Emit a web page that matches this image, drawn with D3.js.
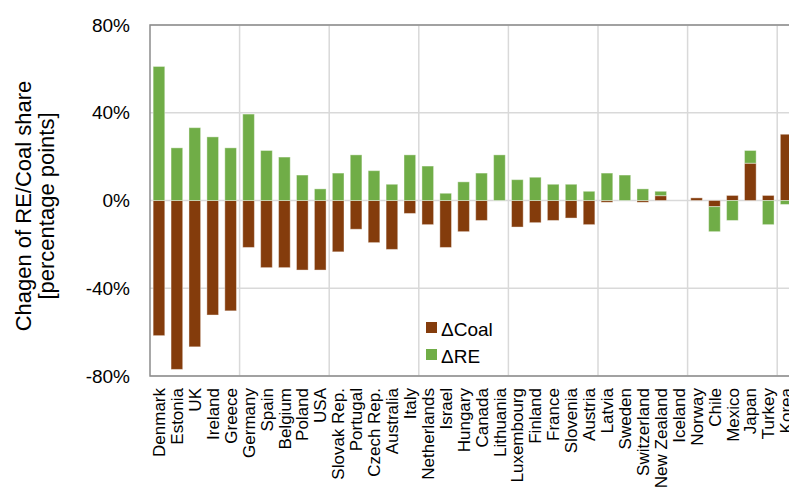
<!DOCTYPE html>
<html>
<head>
<meta charset="utf-8">
<script src="https://cdn.jsdelivr.net/npm/d3@7"></script>
<style>
  html, body { margin: 0; padding: 0; background: #fff; }
  svg { display: block; font-family: "Liberation Sans", Arial, sans-serif; }
</style>
</head>
<body>
<svg id="chart" width="789" height="488"></svg>
<script>
// Change in electricity-mix share per country, percentage points
const countries = ["Denmark", "Estonia", "UK", "Ireland", "Greece", "Germany", "Spain", "Belgium", "Poland", "USA",
  "Slovak Rep.", "Portugal", "Czech Rep.", "Australia", "Italy", "Netherlands", "Israel", "Hungary", "Canada", "Lithuania",
  "Luxembourg", "Finland", "France", "Slovenia", "Austria", "Latvia", "Sweden", "Switzerland", "New Zealand", "Iceland",
  "Norway", "Chile", "Mexico", "Japan", "Turkey", "Korea"];
const coalChange = [-61.6, -77.0, -66.7, -52.2, -50.3, -21.4, -30.6, -30.6, -31.7, -31.7,
  -23.4, -13.1, -19.2, -22.3, -5.9, -11.0, -21.4, -14.2, -9.1, 0,
  -12.1, -10.1, -9.1, -8.0, -11.0, -0.8, 0, -0.8, 2.2, 0,
  1.2, -2.8, 2.3, 17.0, 2.3, 30.2];
const reChange = [61.1, 24.0, 33.2, 29.0, 24.0, 39.4, 22.8, 19.8, 11.6, 5.3,
  12.5, 20.8, 13.6, 7.4, 20.8, 15.7, 3.3, 8.5, 12.5, 20.8,
  9.5, 10.6, 7.4, 7.4, 4.2, 12.5, 11.6, 5.3, 2.0, 0,
  0, -11.4, -9.1, 5.8, -11.0, -1.8];
const yTicks = [-80, -40, 0, 40, 80];
const seriesKeys = ["coal", "re"];
const seriesLabels = { coal: "\u0394Coal", re: "\u0394RE" };
const seriesColors = { coal: "#843c0c", re: "#70ad47" };

const svg = d3.select("#chart");
const plotLeft = 150, plotTop = 25, plotBottom = 376, step = 17.92;
const plotRight = plotLeft + step * countries.length;

const rows = countries.map((c, i) => ({ country: c, coal: coalChange[i], re: reChange[i] }));

const x = d3.scaleBand()
  .domain(countries)
  .range([plotLeft, plotRight])
  .paddingInner(0.35)
  .paddingOuter(0.175);

const y = d3.scaleLinear().domain([-80, 80]).range([plotBottom, plotTop]);

// horizontal gridlines
svg.append("g")
  .selectAll("line")
  .data(yTicks)
  .join("line")
  .attr("x1", plotLeft).attr("x2", plotRight)
  .attr("y1", d => y(d)).attr("y2", d => y(d))
  .attr("stroke", "#d9d9d9").attr("stroke-width", 1.5);

// vertical gridlines every five countries
const groupStarts = countries.filter((c, i) => i > 0 && i % 5 === 0);
svg.append("g")
  .selectAll("line")
  .data(groupStarts)
  .join("line")
  .attr("x1", d => x(d) - x.step() * x.paddingOuter())
  .attr("x2", d => x(d) - x.step() * x.paddingOuter())
  .attr("y1", plotTop).attr("y2", plotBottom)
  .attr("stroke", "#d9d9d9").attr("stroke-width", 1.5);

// stacked bars, diverging around zero
const stacked = d3.stack().keys(seriesKeys).offset(d3.stackOffsetDiverging)(rows);
svg.append("g")
  .selectAll("g")
  .data(stacked)
  .join("g")
  .attr("fill", s => seriesColors[s.key])
  .selectAll("rect")
  .data(s => s)
  .join("rect")
  .attr("x", d => x(d.data.country))
  .attr("width", x.bandwidth())
  .attr("y", d => y(Math.max(d[0], d[1])))
  .attr("height", d => Math.abs(y(d[0]) - y(d[1])))
  .attr("stroke", "#ffffff").attr("stroke-opacity", 0.4).attr("stroke-width", 1);

// plot frame
svg.append("path")
  .attr("d", `M${plotRight},${plotTop}H${plotLeft}V${plotBottom}H${plotRight}`)
  .attr("fill", "none").attr("stroke", "#8c8c8c").attr("stroke-width", 1.5);

// y axis labels
const yAxis = d3.axisLeft(y).tickValues(yTicks).tickFormat(d => d + "%").tickSize(0).tickPadding(0);
const gy = svg.append("g").attr("transform", "translate(130,0)").call(yAxis);
gy.select(".domain").remove();
gy.selectAll("text").attr("font-size", 19).attr("fill", "#000").attr("font-family", "Liberation Sans, Arial, sans-serif");

// x axis labels, rotated
const gx = svg.append("g");
gx.selectAll("text")
  .data(countries)
  .join("text")
  .attr("transform", d => `translate(${x(d) + x.bandwidth() / 2},388) rotate(-90)`)
  .attr("dy", "0.36em")
  .attr("text-anchor", "end")
  .attr("font-size", 17)
  .attr("fill", "#000")
  .text(d => d);

// y axis title
const title = svg.append("text")
  .attr("transform", "translate(31,206) rotate(-90)")
  .attr("text-anchor", "middle")
  .attr("font-size", 22)
  .attr("fill", "#000");
title.append("tspan").attr("x", 0).attr("y", 0).text("Chagen of RE/Coal share");
title.append("tspan").attr("x", 0).attr("y", 23).text("[percentage points]");

// legend
const legend = svg.append("g").attr("transform", "translate(426,322)");
const items = legend.selectAll("g")
  .data(seriesKeys)
  .join("g")
  .attr("transform", (d, i) => `translate(0,${i * 27})`);
items.append("rect").attr("width", 11).attr("height", 11).attr("fill", d => seriesColors[d]);
items.append("text").attr("x", 15).attr("y", 14).attr("font-size", 19).attr("fill", "#000").text(d => seriesLabels[d]);
</script>
</body>
</html>
